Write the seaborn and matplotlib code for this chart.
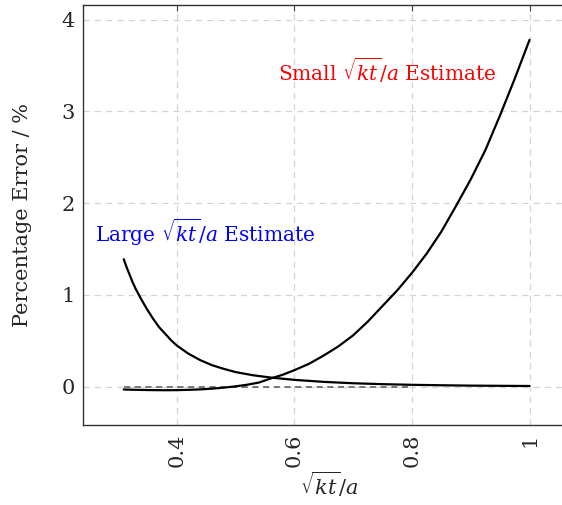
import numpy as np
import pandas as pd
import matplotlib
matplotlib.use("Agg")
import matplotlib.pyplot as plt
import seaborn as sns

# values
large_x = [0.31, 0.315, 0.32, 0.325, 0.33, 0.34, 0.35, 0.36, 0.37, 0.38, 0.39, 0.40, 0.42, 0.44, 0.46,
           0.48, 0.50, 0.53, 0.56, 0.60, 0.65, 0.70, 0.75, 0.80, 0.85, 0.90, 0.95, 1.00]
large_err = [1.39, 1.30, 1.22, 1.14, 1.07, 0.95, 0.84, 0.74, 0.65, 0.58, 0.51, 0.45, 0.36, 0.29, 0.235,
             0.195, 0.16, 0.125, 0.10, 0.075, 0.053, 0.038, 0.028, 0.021, 0.016, 0.012, 0.010, 0.008]
small_x = [0.31, 0.32, 0.34, 0.36, 0.38, 0.40, 0.42, 0.44, 0.46, 0.48, 0.50, 0.52, 0.54, 0.56,
           0.58, 0.60, 0.625, 0.65, 0.675, 0.70, 0.725, 0.75, 0.775, 0.80, 0.825, 0.85, 0.875,
           0.90, 0.925, 0.95, 0.975, 1.00]
small_err = [-0.030, -0.032, -0.035, -0.037, -0.038, -0.037, -0.034, -0.029, -0.021, -0.010, 0.004,
             0.022, 0.046, 0.09, 0.13, 0.18, 0.25, 0.34, 0.44, 0.56, 0.71, 0.88, 1.05, 1.24, 1.45,
             1.69, 1.97, 2.26, 2.58, 2.96, 3.36, 3.78]
zero_x = [0.31, 0.80]
zero_y = [0.0, 0.0]
x_ticks = [0.4, 0.6, 0.8, 1.0]
x_ticklabels = ["0.4", "0.6", "0.8", "1"]
y_ticks = [0, 1, 2, 3, 4]

large_df = pd.DataFrame({"x": large_x, "err": large_err})
small_df = pd.DataFrame({"x": small_x, "err": small_err})

sns.set_style("white")
plt.rcParams['font.family'] = ['DejaVu Serif']
plt.rcParams['mathtext.fontset'] = 'dejavuserif'

fig = plt.figure(figsize=(5.62, 5.05), dpi=100)
ax = fig.add_axes([83 / 562, 1 - 425 / 505, (576 - 83) / 562, (425 - 5) / 505])

ax.grid(True, color="#d4d4d4", linestyle=(0, (5, 4)), linewidth=0.9)
ax.set_axisbelow(True)

sns.lineplot(x=zero_x, y=zero_y, ax=ax, color="#555555", linestyle=(0, (4, 3)), linewidth=1.1)
sns.lineplot(data=large_df, x="x", y="err", ax=ax, color="black", linewidth=1.6, sort=False)
sns.lineplot(data=small_df, x="x", y="err", ax=ax, color="black", linewidth=1.6, sort=False)

ax.set_xlim(0.2407, 1.079)
ax.set_ylim(-0.417, 4.16)
ax.set_xticks(x_ticks)
ax.set_xticklabels(x_ticklabels, rotation=90)
ax.set_yticks(y_ticks)
ax.tick_params(direction="in", length=4, width=0.8, color="#444444",
               top=True, right=True, labelsize=15, pad=6)

ax.set_xlabel(r"$\sqrt{kt}/a$", fontsize=15, labelpad=2)
ax.set_ylabel("Percentage Error / %", fontsize=15, labelpad=21)

for s in ax.spines.values():
    s.set_color("#333333")
    s.set_linewidth(1.0)

ax.text(0.758, 3.45, r"Small $\sqrt{kt}/a$ Estimate", color="red",
        ha="center", va="center", fontsize=14.5)
ax.text(0.448, 1.68, r"Large $\sqrt{kt}/a$ Estimate", color="blue",
        ha="center", va="center", fontsize=14.5)

fig.savefig("out.png", dpi=100)
